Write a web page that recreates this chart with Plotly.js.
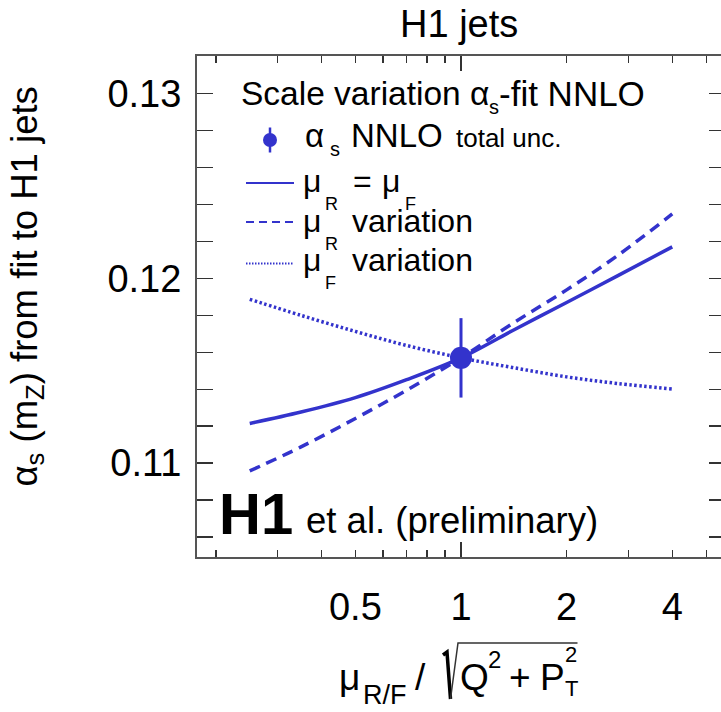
<!DOCTYPE html>
<html><head><meta charset="utf-8">
<script src="https://cdn.plot.ly/plotly-3.0.1.min.js"></script>
<style>html,body{margin:0;padding:0;overflow:hidden;background:#fff}</style>
</head><body><div id="chart" style="width:726px;height:712px"></div>
<script>
// ---- data ----
const scaleFactor = [0.25, 0.35, 0.5, 0.7, 1, 1.4, 2, 2.8, 4];
const alphaSameScale = [0.11215, 0.11277, 0.11355, 0.11452, 0.11570, 0.11717, 0.11870, 0.12015, 0.12171];
const alphaMuRVar    = [0.10958, 0.11088, 0.11242, 0.11395, 0.11570, 0.11755, 0.11938, 0.12125, 0.12349];
const alphaMuFVar    = [0.11887, 0.11800, 0.11713, 0.11637, 0.11570, 0.11518, 0.11467, 0.11431, 0.11401];
const fitPointX = [1];
const fitPointY = [0.11570];
const fitPointErr = [0.00215];
const xLabelVals = [0.5, 1, 2, 4];
const xLabelText = ['0.5', '1', '2', '4'];
const xMinorTicks = [0.2, 0.3, 0.4, 0.6, 0.7, 0.8, 0.9, 3, 5];
const xAllTicks = [0.2, 0.3, 0.4, 0.5, 0.6, 0.7, 0.8, 0.9, 1, 2, 3, 4, 5];
const xMajorTick = [1];
const yTickVals = [0.11, 0.12, 0.13];
const yTickText = ['0.11', '0.12', '0.13'];
const yMinorTicks = [0.106, 0.108, 0.112, 0.114, 0.116, 0.118, 0.122, 0.124, 0.126, 0.128];

// ---- geometry helpers (plot frame in pixels) ----
const PL = 197, PR = 725, PT = 56, PB = 557;
const W = PR - PL, H = PB - PT;
const px = x => (x - PL) / W;
const py = y => (PB - y) / H;
const BLUE = 'rgb(51,51,204)';
const FONT = 'Liberation Sans, Arial, sans-serif';
const XRANGE = [-0.7524, 0.7524];

function T(text, xLeft, yBase, size, extra) {
  const a = {
    text: text, xref: 'paper', yref: 'paper', showarrow: false,
    x: px(xLeft - 1 - 0.06 * size), y: py(yBase - 0.3465 * size),
    xanchor: 'left', yanchor: 'middle',
    font: {family: FONT, size: size, color: '#000'}
  };
  return Object.assign(a, extra || {});
}

const annotations = [
  T('H1 jets', 401, 37.5, 38),
  // legend header
  T('Scale variation α', 241.7, 105.5, 33.5),
  T('s', 489, 113.5, 20),
  T('-fit NNLO', 500.5, 105.5, 35),
  // legend line 2
  T('α', 305.5, 147, 33),
  T('s', 330.5, 156, 20),
  T('NNLO', 352, 147, 33),
  T('total unc.', 457, 147, 26),
  // legend line 3
  T('μ', 303.5, 192, 32),
  T('R', 325, 210, 18),
  T('=', 353.5, 192, 32),
  T('μ', 383.3, 192, 32),
  T('F', 405, 210, 18),
  // legend line 4
  T('μ', 304, 231.7, 32),
  T('R', 325, 250, 18),
  T('variation', 353, 231.7, 32),
  // legend line 5
  T('μ', 304, 271, 32),
  T('F', 325, 289, 18),
  T('variation', 353, 271, 32),
  // H1 label
  T('<b>H1</b>', 221.7, 533.3, 58),
  T('et al. (preliminary)', 306.7, 533, 36.5),
  // x title pieces
  T('μ', 340, 690, 37),
  T('R/F', 363.3, 704.5, 27),
  T('/', 416.7, 690, 37),
  T('Q', 461.7, 690, 37),
  T('2', 488, 668, 24),
  T('+', 510, 690, 37),
  T('P', 541.7, 690, 37),
  T('2', 565, 662, 22),
  T('T', 565, 696, 22),
  // y title
  {text: 'α<sub>s</sub> (m<sub>Z</sub>) from fit to H1 jets', xref: 'paper', yref: 'paper',
   showarrow: false, x: px(26), y: py(286.5), xanchor: 'center', yanchor: 'middle', textangle: -90,
   font: {family: FONT, size: 36.5, color: '#000'}}
];

const shapes = [
  // legend samples
  {type: 'line', xref: 'paper', yref: 'paper', x0: px(246), x1: px(294), y0: py(183), y1: py(183),
   line: {color: BLUE, width: 2}},
  {type: 'line', xref: 'paper', yref: 'paper', x0: px(246), x1: px(294), y0: py(222), y1: py(222),
   line: {color: BLUE, width: 2.2, dash: '8px,5px'}},
  {type: 'line', xref: 'paper', yref: 'paper', x0: px(246), x1: px(294), y0: py(263.5), y1: py(263.5),
   line: {color: BLUE, width: 2, dash: '1.5px,1.5px'}},
  {type: 'line', xref: 'paper', yref: 'paper', x0: px(270), x1: px(270), y0: py(127.5), y1: py(152.5),
   line: {color: BLUE, width: 2.5}},
  {type: 'circle', xref: 'paper', yref: 'paper', x0: px(263), x1: px(277), y0: py(133), y1: py(147),
   fillcolor: BLUE, line: {color: BLUE, width: 0}},
  // square-root sign of the x title
  {type: 'path', xref: 'paper', yref: 'paper',
   path: 'M ' + px(443) + ',' + py(655) + ' L ' + px(447) + ',' + py(652) + ' L ' + px(450.5) + ',' + py(699),
   line: {color: '#000', width: 3.5}},
  {type: 'path', xref: 'paper', yref: 'paper',
   path: 'M ' + px(450.5) + ',' + py(699) + ' L ' + px(458) + ',' + py(643) + ' L ' + px(577.5) + ',' + py(643),
   line: {color: '#333', width: 1.5}}
];

const traces = [
  {x: scaleFactor, y: alphaMuFVar, mode: 'lines', line: {color: BLUE, width: 3.5, dash: '2.5px,2.5px', shape: 'spline'}, hoverinfo: 'skip'},
  {x: scaleFactor, y: alphaMuRVar, mode: 'lines', line: {color: BLUE, width: 3.5, dash: '11px,7px', shape: 'spline'}, hoverinfo: 'skip'},
  {x: scaleFactor, y: alphaSameScale, mode: 'lines', line: {color: BLUE, width: 3.5, shape: 'spline'}, hoverinfo: 'skip'},
  {x: fitPointX, y: fitPointY, mode: 'markers', marker: {color: BLUE, size: 22},
   error_y: {type: 'data', array: fitPointErr, visible: true, thickness: 3, width: 0, color: BLUE}},
  // invisible helpers so the extra tick axes are drawn
  {x: fitPointX, y: fitPointY, xaxis: 'x2', mode: 'markers', marker: {opacity: 0}, hoverinfo: 'skip'},
  {x: fitPointX, y: fitPointY, xaxis: 'x3', mode: 'markers', marker: {opacity: 0}, hoverinfo: 'skip'},
  {x: fitPointX, y: fitPointY, xaxis: 'x4', mode: 'markers', marker: {opacity: 0}, hoverinfo: 'skip'}
];

const tickAxis = (side, vals, len) => ({
  type: 'log', range: XRANGE, overlaying: 'x', anchor: 'y', side: side,
  tickmode: 'array', tickvals: vals, ticks: 'inside', ticklen: len, tickwidth: 1.5, tickcolor: '#333',
  showline: false, showticklabels: false, showgrid: false, zeroline: false
});

const layout = {
  width: 726, height: 712,
  margin: {l: PL, r: 726 - PR, t: PT, b: 712 - PB},
  paper_bgcolor: '#fff', plot_bgcolor: '#fff',
  showlegend: false,
  font: {family: FONT, color: '#000'},
  xaxis: {
    type: 'log', range: XRANGE, tickmode: 'array', tickvals: xLabelVals, ticktext: xLabelText,
    ticks: 'inside', ticklen: 7, tickwidth: 1.5, tickcolor: '#333',
    minor: {tickmode: 'array', tickvals: xMinorTicks, ticks: 'inside', ticklen: 7, tickwidth: 1.5, tickcolor: '#333', showgrid: false},
    showline: true, linecolor: '#555', linewidth: 2, mirror: true,
    showgrid: false, zeroline: false, ticklabelstandoff: 15,
    tickfont: {family: FONT, size: 38, color: '#000'}
  },
  xaxis2: tickAxis('bottom', xMajorTick, 15),
  xaxis3: tickAxis('top', xAllTicks, 7),
  xaxis4: tickAxis('top', xMajorTick, 15),
  yaxis: {
    range: [0.10492, 0.13204], tickmode: 'array', tickvals: yTickVals, ticktext: yTickText,
    ticks: 'inside', ticklen: 16, tickwidth: 1.5, tickcolor: '#333',
    minor: {tickmode: 'array', tickvals: yMinorTicks, ticks: 'inside', ticklen: 8, tickwidth: 1.5, tickcolor: '#333', showgrid: false},
    showline: true, linecolor: '#555', linewidth: 2, mirror: 'allticks',
    showgrid: false, zeroline: false, ticklabelstandoff: 6,
    tickfont: {family: FONT, size: 38, color: '#000'}
  },
  annotations: annotations,
  shapes: shapes
};

Plotly.newPlot('chart', traces, layout, {staticPlot: true, displayModeBar: false});
</script></body></html>
